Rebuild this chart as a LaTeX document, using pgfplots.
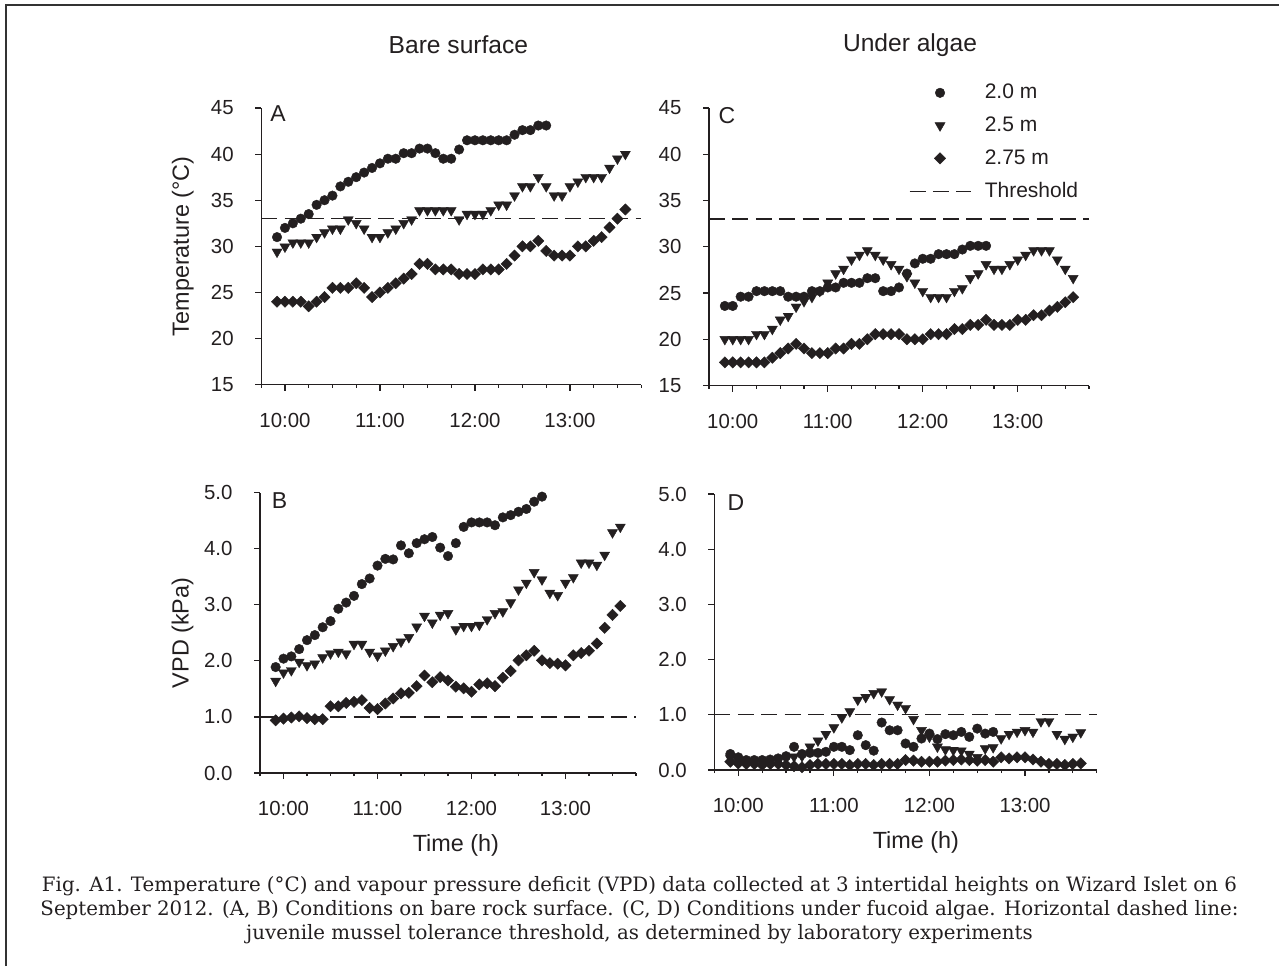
\documentclass[border=0pt]{standalone}
\usepackage{fontspec}
\setmainfont{Liberation Sans}
\newfontfamily\capfont{DejaVu Serif}
\usepackage{pgfplots}
\usepackage{pgfplotstable}
\pgfplotsset{compat=1.18}
\definecolor{ink}{HTML}{231F20}
\definecolor{frame}{HTML}{333333}

% time in minutes after midnight, one reading every 5 min
\pgfplotstableread{
t a b c
595 31.0 29.4 24.0
600 32.0 29.95 24.0
605 32.5 30.4 24.0
610 33.0 30.4 24.0
615 33.5 30.4 23.5
620 34.5 31.0 24.0
625 35.0 31.5 24.5
630 35.5 31.9 25.5
635 36.5 31.9 25.5
640 37.0 32.9 25.5
645 37.5 32.5 26.0
650 38.0 31.9 25.5
655 38.5 31.0 24.5
660 39.0 31.0 25.0
665 39.5 31.5 25.5
670 39.5 31.9 26.0
675 40.1 32.5 26.5
680 40.1 32.9 27.0
685 40.6 33.9 28.1
690 40.6 33.9 28.1
695 40.1 33.9 27.5
700 39.5 33.9 27.5
705 39.5 33.9 27.5
710 40.5 32.9 27.0
715 41.5 33.5 27.0
720 41.5 33.5 27.0
725 41.5 33.5 27.5
730 41.5 33.9 27.5
735 41.5 34.5 27.5
740 41.5 34.5 28.1
745 42.1 35.5 29.0
750 42.6 36.5 30.0
755 42.6 36.5 30.0
760 43.1 37.5 30.6
765 43.1 36.5 29.5
770 nan 35.5 29.0
775 nan 35.5 29.0
780 nan 36.5 29.0
785 nan 37.0 30.0
790 nan 37.5 30.0
795 nan 37.5 30.6
800 nan 37.5 31.0
805 nan 38.5 32.05
810 nan 39.5 33.0
815 nan 40.0 34.0
}\dataA

\pgfplotstableread{
t a b c
595 1.89 1.64 0.94
600 2.04 1.79 0.97
605 2.08 1.83 0.99
610 2.21 1.98 1.01
615 2.37 1.92 0.98
620 2.46 1.95 0.96
625 2.60 2.06 0.96
630 2.71 2.13 1.19
635 2.93 2.16 1.19
640 3.04 2.13 1.25
645 3.16 2.30 1.27
650 3.37 2.30 1.30
655 3.47 2.16 1.16
660 3.70 2.09 1.14
665 3.82 2.18 1.24
670 3.81 2.26 1.33
675 4.06 2.34 1.42
680 3.92 2.42 1.43
685 4.10 2.61 1.55
690 4.17 2.80 1.74
695 4.21 2.68 1.62
700 4.02 2.82 1.71
705 3.87 2.85 1.65
710 4.10 2.56 1.54
715 4.39 2.62 1.51
720 4.47 2.62 1.45
725 4.47 2.64 1.58
730 4.47 2.74 1.60
735 4.42 2.85 1.55
740 4.56 2.88 1.70
745 4.60 3.04 1.82
750 4.66 3.27 2.01
755 4.71 3.39 2.10
760 4.84 3.58 2.18
765 4.93 3.45 2.01
770 nan 3.21 1.96
775 nan 3.17 1.95
780 nan 3.39 1.92
785 nan 3.49 2.10
790 nan 3.75 2.14
795 nan 3.75 2.18
800 nan 3.71 2.31
805 nan 3.89 2.59
810 nan 4.29 2.82
815 nan 4.39 2.98
}\dataB

\pgfplotstableread{
t a b c
595 23.6 20.0 17.5
600 23.6 20.0 17.5
605 24.6 20.0 17.5
610 24.6 20.0 17.5
615 25.2 20.55 17.5
620 25.2 20.55 17.5
625 25.2 21.1 18.0
630 25.2 22.1 18.5
635 24.6 22.5 19.0
640 24.6 23.5 19.5
645 24.6 24.1 19.0
650 25.2 24.55 18.5
655 25.2 25.2 18.5
660 25.6 26.1 18.5
665 25.6 27.1 19.0
670 26.1 27.6 19.0
675 26.1 28.6 19.5
680 26.1 29.1 19.5
685 26.6 29.6 20.0
690 26.6 29.1 20.55
695 25.2 28.6 20.55
700 25.2 28.1 20.55
705 25.6 27.6 20.55
710 27.1 26.8 20.0
715 28.2 26.1 20.0
720 28.7 25.2 20.0
725 28.7 24.55 20.55
730 29.2 24.55 20.55
735 29.2 24.55 20.55
740 29.2 25.2 21.1
745 29.7 25.5 21.1
750 30.1 26.6 21.55
755 30.1 27.1 21.55
760 30.1 28.1 22.1
765 nan 27.6 21.55
770 nan 27.6 21.55
775 nan 28.1 21.55
780 nan 28.6 22.1
785 nan 29.1 22.1
790 nan 29.6 22.6
795 nan 29.6 22.6
800 nan 29.6 23.1
805 nan 28.6 23.5
810 nan 27.6 24.0
815 nan 26.6 24.55
}\dataC

\pgfplotstableread{
t a b c
595 0.29 0.21 0.15
600 0.23 0.18 0.12
605 0.18 0.15 0.11
610 0.18 0.15 0.11
615 0.18 0.15 0.09
620 0.19 0.15 0.11
625 0.21 0.18 0.11
630 0.25 0.21 0.09
635 0.42 0.24 0.07
640 0.29 0.25 0.05
645 0.31 0.42 0.09
650 0.31 0.53 0.11
655 0.33 0.65 0.11
660 0.42 0.77 0.11
665 0.42 0.95 0.11
670 0.36 1.06 0.09
675 0.63 1.27 0.11
680 0.45 1.32 0.11
685 0.35 1.39 0.09
690 0.86 1.42 0.11
695 0.72 1.28 0.11
700 0.72 1.18 0.11
705 0.48 1.12 0.18
710 0.42 0.92 0.17
715 0.57 0.72 0.15
720 0.66 0.60 0.15
725 0.56 0.42 0.15
730 0.65 0.37 0.17
735 0.63 0.36 0.18
740 0.69 0.35 0.19
745 0.60 0.29 0.18
750 0.75 0.23 0.17
755 0.66 0.39 0.18
760 0.69 0.41 0.15
765 nan 0.57 0.23
770 nan 0.65 0.21
775 nan 0.69 0.23
780 nan 0.72 0.23
785 nan 0.69 0.19
790 nan 0.88 0.15
795 nan 0.88 0.11
800 nan 0.65 0.11
805 nan 0.56 0.09
810 nan 0.60 0.11
815 nan 0.68 0.12
}\dataD

\tikzset{
  letter/.style={font=\fontsize{11.5}{13}\selectfont, text=ink},
  heading/.style={font=\fontsize{12.3}{14}\selectfont, text=ink},
}

\pgfplotsset{
  panel/.style={
    scale only axis,
    axis lines*=left,
    axis line style={ink, line width=0.6pt},
    tick style={ink, line width=0.6pt},
    tick align=outside,
    major tick length=3pt,
    minor tick length=1.6pt,
    xmin=585, xmax=825,
    xtick={600,660,720,780},
    xticklabels={10:00,11:00,12:00,13:00},
    minor xtick={585,600,...,825},
    tick label style={font=\fontsize{10.2}{12}\selectfont, text=ink, inner sep=0pt},
    xticklabel style={anchor=north, yshift=-11pt},
    yticklabel style={anchor=east, xshift=-10.6pt},
    every axis y label/.style={at={(axis description cs:-0.206,0.5)}, rotate=90, anchor=center,
      font=\fontsize{11.7}{14}\selectfont, text=ink},
    clip=false,
  },
  xlab/.style={every axis x label/.style={at={(axis description cs:#1)}, anchor=center,
      font=\fontsize{11.7}{14}\selectfont, text=ink}},
  s20/.style={only marks, mark=*, mark size=2.4pt, color=ink, mark options={fill=ink, draw=ink, line width=0.2pt}},
  s25/.style={only marks, mark=triangle*, mark size=2.9pt, color=ink, mark options={rotate=180, fill=ink, draw=ink, line width=0.2pt}},
  s275/.style={only marks, mark=square*, mark size=2pt, color=ink, mark options={rotate=45, fill=ink, draw=ink, line width=0.2pt}},
  thr/.style={color=ink, line width=0.65pt, dash pattern=on 8pt off 3.7pt, no markers},
}

\begin{document}
\begin{tikzpicture}
\useasboundingbox (0,0) rectangle (639.5pt,483pt);
\draw[line width=1pt, color=frame] (2.75pt,0pt) -- (2.75pt,480.5pt) -- (639.5pt,480.5pt);

% A: temperature, bare surface
\begin{axis}[panel, at={(130.6pt,290.65pt)}, anchor=south west,
  width=190pt, height=138.35pt,
  ymin=15, ymax=45, ytick={15,20,25,30,35,40,45}, yticklabels={15,20,25,30,35,40,45},
  ylabel={Temperature (°C)}]
\addplot[s20] table[x=t,y=a] {\dataA};
\addplot[s25] table[x=t,y=b] {\dataA};
\addplot[s275] table[x=t,y=c] {\dataA};
\addplot[thr] coordinates {(585,33) (825,33)};
\node[letter] at (axis description cs:0.044,0.978) {A};
\node[heading] at (axis description cs:0.519,1.228) {Bare surface};
\end{axis}

% C: temperature, under algae
\begin{axis}[panel, at={(354.5pt,290.25pt)}, anchor=south west,
  width=190pt, height=138.75pt,
  ymin=15, ymax=45, ytick={15,20,25,30,35,40,45}, yticklabels={15,20,25,30,35,40,45},
  legend style={at={(0.526,1.0865)}, anchor=north west, draw=none, fill=none,
    inner sep=0pt, outer sep=0pt, row sep=7.55pt, column sep=6.8pt,
    font=\fontsize{10.5}{12}\selectfont, nodes={inner sep=0pt, text=ink}},
  legend cell align=left,
  legend image code/.code={\draw[mark repeat=2,mark phase=2,#1] plot coordinates {(0pt,0pt) (15.25pt,0pt) (30.5pt,0pt)};}]
\addplot[s20] table[x=t,y=a] {\dataC};
\addplot[s25] table[x=t,y=b] {\dataC};
\addplot[s275] table[x=t,y=c] {\dataC};
\addplot[thr] coordinates {(585,33) (825,33)};
\legend{2.0 m, 2.5 m, 2.75 m, Threshold}
\node[letter] at (axis description cs:0.047,0.971) {C};
\node[heading] at (axis description cs:0.529,1.227) {Under algae};
\end{axis}

% B: VPD, bare surface
\begin{axis}[panel, at={(130pt,96.5pt)}, anchor=south west,
  width=188pt, height=140.15pt,
  ymin=0, ymax=5, ytick={0,1,2,3,4,5}, yticklabels={0.0,1.0,2.0,3.0,4.0,5.0},
  ylabel={VPD (kPa)}, xlabel={Time (h)}, xlab={0.521,-0.257}]
\addplot[s20] table[x=t,y=a] {\dataB};
\addplot[s25] table[x=t,y=b] {\dataB};
\addplot[s275] table[x=t,y=c] {\dataB};
\addplot[thr] coordinates {(585,1) (825,1)};
\node[letter] at (axis description cs:0.052,0.972) {B};
\end{axis}

% D: VPD, under algae
\begin{axis}[panel, at={(357.2pt,98pt)}, anchor=south west,
  width=191.15pt, height=138pt,
  ymin=0, ymax=5, ytick={0,1,2,3,4,5}, yticklabels={0.0,1.0,2.0,3.0,4.0,5.0},
  xlabel={Time (h)}, xlab={0.527,-0.261}]
\addplot[s20] table[x=t,y=a] {\dataD};
\addplot[s25] table[x=t,y=b] {\dataD};
\addplot[s275] table[x=t,y=c] {\dataD};
\addplot[thr] coordinates {(585,1) (825,1)};
\node[letter] at (axis description cs:0.056,0.969) {D};
\end{axis}

\node[font={\capfont\fontsize{9.9}{12}\selectfont}, text=ink, align=center, inner sep=0pt]
  at (319.75pt,28pt) {Fig. A1. Temperature (°C) and vapour pressure deficit (VPD) data collected at 3 intertidal heights on Wizard Islet on 6\\
September 2012. (A, B) Conditions on bare rock surface. (C, D) Conditions under fucoid algae. Horizontal dashed line:\\
juvenile mussel tolerance threshold, as determined by laboratory experiments};
\end{tikzpicture}
\end{document}
